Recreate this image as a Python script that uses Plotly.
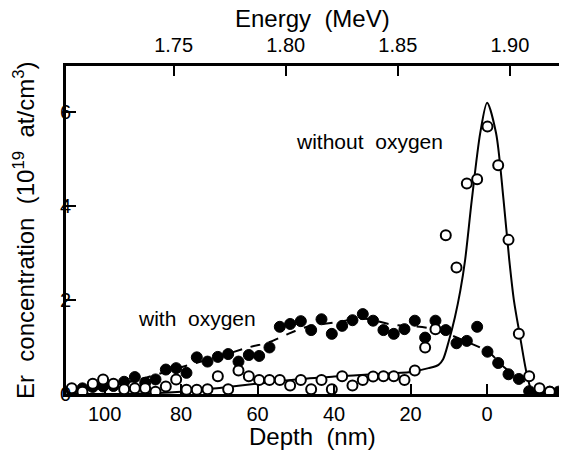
import plotly.graph_objects as go

# ---- data ----
depth = [108.6, 105.8, 103.1, 100.4, 97.7, 94.9, 92.1, 89.4, 86.7, 84.0,
         81.3, 78.6, 75.9, 73.1, 70.4, 67.7, 65.0, 62.3, 59.6, 56.9,
         54.2, 51.5, 48.7, 46.0, 43.3, 40.6, 37.9, 35.2, 32.5, 29.8,
         27.1, 24.4, 21.6, 18.9, 16.2, 13.5, 10.8, 8.0, 5.3, 2.6,
         -0.1, -2.9, -5.6, -8.3, -11.0, -13.7, -16.4, -18.7]

with_oxygen = [0.08, 0.12, 0.15, 0.16, 0.17, 0.26, 0.36, 0.24, 0.31, 0.52,
               0.55, 0.45, 0.78, 0.69, 0.79, 0.85, 0.69, 0.83, 0.81, 0.99,
               1.43, 1.49, 1.55, 1.36, 1.59, 1.28, 1.45, 1.57, 1.70, 1.56,
               1.36, 1.28, 1.38, 1.56, 1.20, 1.56, 1.36, 1.08, 1.13, 1.43,
               0.90, 0.66, 0.42, 0.32, 0.06, 0.05, 0.05, 0.05]

without_oxygen = [0.12, 0.05, 0.22, 0.31, 0.22, 0.10, 0.12, 0.12, 0.05, 0.16,
                  0.31, 0.09, 0.09, 0.10, 0.38, 0.10, 0.50, 0.38, 0.30, 0.30,
                  0.30, 0.18, 0.30, 0.10, 0.30, 0.10, 0.38, 0.18, 0.30, 0.37,
                  0.38, 0.38, 0.30, 0.50, 0.99, 1.38, 3.38, 2.69, 4.48, 4.57,
                  5.69, 4.87, 3.28, 1.28, 0.38, 0.12, 0.05, None]

fit_without_depth = [110, 100, 90, 80, 70, 60, 50, 40, 30, 20, 15.3, 12.7, 11.5,
                     10.1, 8.4, 7.0, 5.75, 4.0, 1.8, 0.0, -2.35, -4.3, -5.8,
                     -7.0, -8.5, -10.5, -12.0, -14.0, -19.0]
fit_without_conc = [0.0, 0.0, 0.01, 0.05, 0.13, 0.22, 0.31, 0.37, 0.42, 0.47, 0.55,
                    0.62, 0.74, 1.1, 1.64, 2.2, 2.85, 4.13, 5.55, 6.2, 5.55, 4.13,
                    2.85, 2.0, 1.28, 0.38, 0.02, 0.0, 0.0]

fit_with_depth = [110, 100, 90, 80, 70, 62, 57, 52, 47, 40, 32, 25, 15, 10, 5,
                  1.4, -1.0, -4.3, -7.0, -9.5, -12.0, -14.0, -19.0]
fit_with_conc = [0.04, 0.14, 0.33, 0.57, 0.8, 1.0, 1.1, 1.28, 1.43, 1.52, 1.6,
                 1.48, 1.4, 1.27, 1.1, 0.97, 0.85, 0.58, 0.42, 0.28, 0.08, 0.0, 0.0]

energy_ticks = [1.75, 1.80, 1.85, 1.90]
energy_labels = ["1.75", "1.80", "1.85", "1.90"]
depth_ticks = [100, 80, 60, 40, 20, 0]
conc_ticks = [0, 2, 4, 6]

x_title = "Depth\u00a0\u00a0(nm)"
x2_title = "Energy\u00a0\u00a0(MeV)"
y_title = "Er\u00a0\u00a0concentration\u00a0\u00a0(10<sup>19</sup>\u00a0\u00a0at/cm<sup>3</sup>)"

FONT = "Liberation Sans, Arial, sans-serif"

fig = go.Figure()
fig.add_trace(go.Scatter(x=fit_with_depth, y=fit_with_conc, mode="lines",
                         line=dict(color="black", width=2, dash="10px,9px", shape="spline"),
                         showlegend=False, hoverinfo="skip"))
fig.add_trace(go.Scatter(x=fit_without_depth, y=fit_without_conc, mode="lines",
                         line=dict(color="black", width=2, shape="spline", smoothing=0.8),
                         showlegend=False, hoverinfo="skip"))
fig.add_trace(go.Scatter(x=depth, y=with_oxygen, mode="markers",
                         marker=dict(symbol="circle", size=11, color="black",
                                     line=dict(color="black", width=1)),
                         showlegend=False))
fig.add_trace(go.Scatter(x=depth, y=without_oxygen, mode="markers",
                         marker=dict(symbol="circle", size=10, color="white",
                                     line=dict(color="black", width=2)),
                         showlegend=False))
# invisible trace to anchor the energy axis
fig.add_trace(go.Scatter(x=energy_ticks, y=[None] * 4, xaxis="x2", mode="markers",
                         showlegend=False, hoverinfo="skip"))

fig.add_annotation(x=30.7, y=5.37, text="without\u00a0\u00a0oxygen", showarrow=False,
                   font=dict(family=FONT, size=21, color="black"))
fig.add_annotation(x=75.9, y=1.61, text="with\u00a0\u00a0oxygen", showarrow=False,
                   font=dict(family=FONT, size=21, color="black"))

# axis titles
fig.add_annotation(xref="paper", yref="paper", x=0.5, y=-0.131, text=x_title,
                   showarrow=False, xanchor="center", yanchor="middle",
                   font=dict(family=FONT, size=24, color="black"))
fig.add_annotation(xref="paper", yref="paper", x=0.5, y=1.145, text=x2_title,
                   showarrow=False, xanchor="center", yanchor="middle",
                   font=dict(family=FONT, size=24, color="black"))
fig.add_annotation(xref="paper", yref="paper", x=-0.0852, y=0.5, text=y_title,
                   showarrow=False, xanchor="center", yanchor="middle", textangle=-90,
                   font=dict(family=FONT, size=24, color="black"))

axis_common = dict(showgrid=False, zeroline=False, ticks="inside", ticklen=10,
                   tickwidth=2, tickcolor="black", showline=True, linecolor="black",
                   linewidth=3, tickfont=dict(family=FONT, size=20, color="black"))

fig.update_layout(
    width=561, height=451,
    margin=dict(l=66, r=2, t=66, b=57, autoexpand=False),
    paper_bgcolor="white", plot_bgcolor="white",
    font=dict(family=FONT, color="black"),
    xaxis=dict(range=[110.1, -18.8], tickvals=depth_ticks, **axis_common),
    xaxis2=dict(range=[1.7020, 1.9219], tickvals=energy_ticks, ticktext=energy_labels,
                overlaying="x", side="top", anchor="y", ticklabelstandoff=3,
                **axis_common),
    yaxis=dict(range=[0, 6.98], tickvals=conc_ticks, ticklabelposition="outside",
               ticklabelstandoff=-12, **axis_common),
)

fig.write_html("out.html", config={"displayModeBar": False},
               post_script="document.body.style.margin='0';document.body.style.overflow='hidden';")
